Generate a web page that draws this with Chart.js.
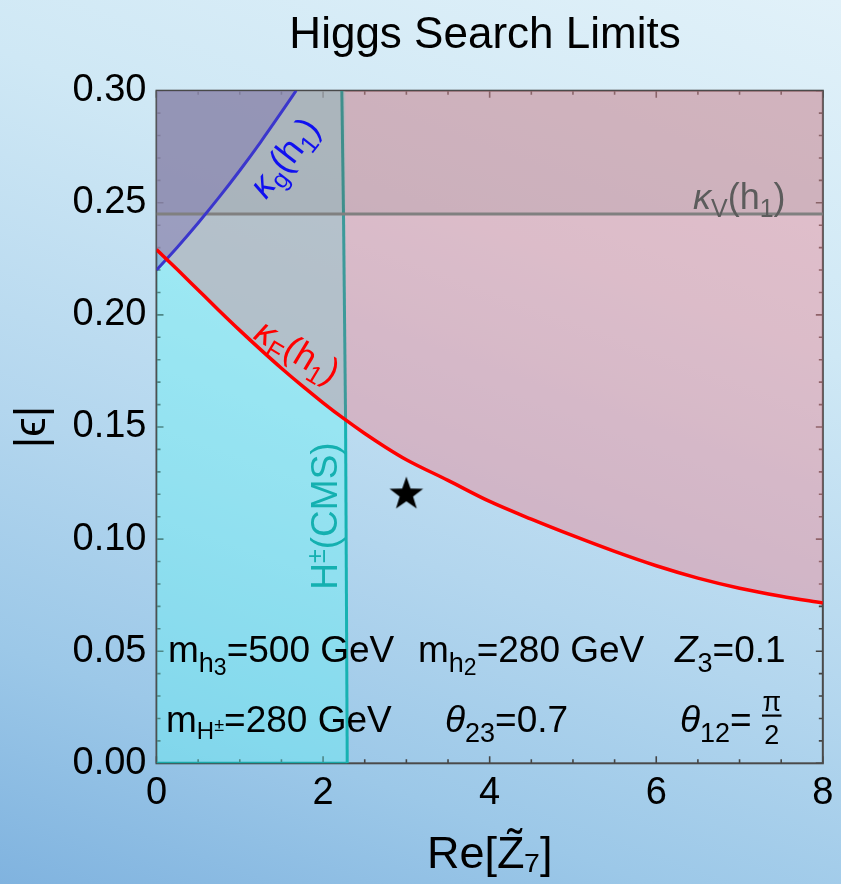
<!DOCTYPE html>
<html><head><meta charset="utf-8">
<script src="https://cdn.jsdelivr.net/npm/chart.js@4.4.1/dist/chart.umd.min.js"></script>
<style>
html,body{margin:0;padding:0;width:841px;height:884px;overflow:hidden;
background:linear-gradient(200deg,#e1f1f9 0%,#cfe8f5 30%,#b3d6ee 60%,#9cc8e8 80%,#80b3df 100%);}
canvas{display:block;}
</style></head><body>
<canvas id="c" width="841" height="884"></canvas>
<script>
// ---------- data ----------
const xTickValues = [0, 2, 4, 6, 8];
const yTickValues = [0, 0.05, 0.10, 0.15, 0.20, 0.25, 0.30];
const kappaF_x = [0, 0.25, 0.5, 0.75, 1, 1.25, 1.5, 1.75, 2, 2.25, 2.5, 2.75, 3, 3.5, 4, 4.5, 5, 5.5, 6, 6.5, 7, 7.5, 8];
const kappaF_y = [0.2292, 0.2202, 0.2111, 0.2020, 0.1931, 0.1845, 0.1762, 0.1683, 0.1608, 0.1537, 0.1471, 0.1410, 0.1354, 0.1262, 0.1168, 0.1089, 0.1015, 0.0945, 0.0881, 0.0826, 0.0781, 0.0745, 0.0715];
const kappaG_x = [0, 0.25, 0.5, 0.75, 1, 1.25, 1.5, 1.676];
const kappaG_y = [0.220, 0.2302, 0.2410, 0.2524, 0.2644, 0.2771, 0.2904, 0.300];
const kappaV_x = [0, 8];
const kappaV_y = [0.245, 0.245];
const cms_x = [2.225, 2.245, 2.27, 2.29];
const cms_y = [0.300, 0.245, 0.153, 0.000];
const benchmark_x = [3.0];
const benchmark_y = [0.12];

// ---------- helpers ----------
const FONT = '"Liberation Sans", Arial, sans-serif';
Chart.defaults.font.family = FONT;
const pts = (xs, ys) => xs.map((x, i) => ({x: x, y: ys[i]}));

const starImg = (() => {
  const c = document.createElement('canvas'); c.width = 38; c.height = 38;
  const g = c.getContext('2d'); g.fillStyle = '#000'; g.beginPath();
  const R = 17.7, r = R * 0.4, cx = 19, cy = 19;
  for (let k = 0; k < 10; k++) {
    const a = -Math.PI / 2 + k * Math.PI / 5, rad = k % 2 ? r : R;
    const px = cx + rad * Math.cos(a), py = cy + rad * Math.sin(a);
    k ? g.lineTo(px, py) : g.moveTo(px, py);
  }
  g.closePath(); g.fill(); return c;
})();

function setFont(ctx, size, italic) { ctx.font = (italic ? 'italic ' : '') + size + 'px ' + FONT; }
function richWidth(ctx, parts) { let w = 0; for (const p of parts) { setFont(ctx, p[1], p[3]); w += ctx.measureText(p[0]).width; } return w; }
function richDraw(ctx, x, y, parts) {
  for (const p of parts) { setFont(ctx, p[1], p[3]); ctx.fillText(p[0], x, y + (p[2] || 0)); x += ctx.measureText(p[0]).width; }
  return x;
}
function richRotated(ctx, cx, cy, angDeg, parts, color, base) {
  ctx.save(); ctx.translate(cx, cy); ctx.rotate(angDeg * Math.PI / 180);
  ctx.fillStyle = color; ctx.textAlign = 'left'; ctx.textBaseline = 'alphabetic';
  const w = richWidth(ctx, parts);
  richDraw(ctx, -w / 2, base, parts);
  ctx.restore();
}

const framePlugin = {
  id: 'frameTicks',
  beforeDatasetsDraw(chart) {
    const {ctx, chartArea: a} = chart; const xs = chart.scales.x, ys = chart.scales.y;
    ctx.save();
    ctx.strokeStyle = '#444'; ctx.lineWidth = 1.6;
    ctx.beginPath();
    for (let v = 0; v <= 8.0001; v += 0.5) {
      const px = xs.getPixelForValue(v);
      const L = Math.abs(v / 2 - Math.round(v / 2)) < 1e-6 ? 7 : 4;
      ctx.moveTo(px, a.bottom); ctx.lineTo(px, a.bottom - L);
      ctx.moveTo(px, a.top); ctx.lineTo(px, a.top + L);
    }
    for (let k = 0; k <= 30; k++) {
      const py = ys.getPixelForValue(k / 100);
      const L = k % 5 === 0 ? 7 : 4;
      ctx.moveTo(a.left, py); ctx.lineTo(a.left + L, py);
      ctx.moveTo(a.right, py); ctx.lineTo(a.right - L, py);
    }
    ctx.stroke();
    ctx.lineWidth = 2; ctx.strokeStyle = '#4a4a4a';
    ctx.strokeRect(a.left, a.top, a.right - a.left, a.bottom - a.top);
    ctx.restore();
  },
  afterDatasetsDraw(chart) {
    const {ctx} = chart;
    ctx.save();
    ctx.fillStyle = '#000'; ctx.textBaseline = 'alphabetic';
    // title
    setFont(ctx, 44); ctx.textAlign = 'center';
    ctx.fillText('Higgs Search Limits', 485, 47.7);
    ctx.textAlign = 'left';
    // parameter annotations
    richDraw(ctx, 168, 662, [['m', 37], ['h', 27, 10], ['3', 23, 13], ['=500 GeV', 37]]);
    richDraw(ctx, 418, 662, [['m', 37], ['h', 27, 10], ['2', 23, 13], ['=280 GeV', 37]]);
    richDraw(ctx, 675, 662, [['Z', 37, 0, true], ['3', 27, 10], ['=0.1', 37]]);
    richDraw(ctx, 166, 731.5, [['m', 37], ['H', 24, 7], ['±', 18, -1], ['=280 GeV', 37]]);
    richDraw(ctx, 445, 731.5, [['θ', 37, 0, true], ['23', 27, 10], ['=0.7', 37]]);
    richDraw(ctx, 680, 731.5, [['θ', 37, 0, true], ['12', 27, 10], ['=', 37]]);
    setFont(ctx, 27); ctx.textAlign = 'center';
    ctx.fillText('π', 771.7, 711);
    ctx.fillText('2', 771.7, 743.5);
    ctx.fillRect(762, 714.5, 19.5, 2.2);
    ctx.textAlign = 'left';
    // curve labels
    richRotated(ctx, 285, 158, -52, [['κ', 36, 0, true], ['g', 25, 7], ['(h', 36], ['1', 25, 8], [')', 36]], '#1010f0', 11);
    richRotated(ctx, 297, 352, 31, [['κ', 36, 0, true], ['F', 25, 8], ['(h', 36], ['1', 25, 8], [')', 36]], '#ff0000', 11);
    ctx.fillStyle = '#5c5c5c';
    richDraw(ctx, 693, 209, [['κ', 36, 0, true], ['V', 25, 8], ['(h', 36], ['1', 25, 8], [')', 36]]);
    richRotated(ctx, 337, 516, -90, [['H', 37], ['±', 25, -12], ['(CMS)', 37]], '#14b0b0', 0);
    ctx.restore();
  }
};

const tealFill = 'rgba(95,245,245,0.38)';
const pinkFill = 'rgba(235,135,148,0.45)';
const mixFill = 'rgba(150,200,205,0.30)';
const grayFill = 'rgba(110,110,110,0.15)';
const blueFill = 'rgba(95,75,165,0.30)';

const overlapPts = pts(kappaF_x, kappaF_y).filter(p => p.x < cms_x[2]).concat([{x: cms_x[2], y: cms_y[2]}]);

new Chart(document.getElementById('c'), {
  type: 'line',
  data: {
    datasets: [
      {label: 'benchmark', data: pts(benchmark_x, benchmark_y), showLine: false, pointStyle: starImg, pointRadius: 10, order: 0},
      {label: 'κF(h1)', data: pts(kappaF_x, kappaF_y), borderColor: '#ff0000', borderWidth: 3.5, cubicInterpolationMode: 'monotone', pointRadius: 0, fill: false, order: 1},
      {label: 'κg(h1)', data: pts(kappaG_x, kappaG_y), borderColor: '#3b36cc', borderWidth: 3, cubicInterpolationMode: 'monotone', pointRadius: 0, fill: false, order: 2},
      {label: 'κV(h1)', data: pts(kappaV_x, kappaV_y), borderColor: '#808080', borderWidth: 3.2, pointRadius: 0, fill: false, order: 3},
      {label: 'H±(CMS)', data: pts(cms_x, cms_y), borderWidth: 3, pointRadius: 0, fill: false, order: 4,
        segment: {borderColor: c => c.p0.parsed.y > 0.25 ? '#3f8f8c' : (c.p0.parsed.y > 0.16 ? '#3d9a9a' : '#17b2b2')}},
      {label: 'H± edge', data: [{x: 0, y: 0}, {x: cms_x[3], y: 0}], borderColor: '#1aa8a8', borderWidth: 3, pointRadius: 0, fill: false, order: 5},
      {label: 'κg excluded', data: pts(kappaG_x, kappaG_y), borderColor: 'transparent', borderWidth: 0, cubicInterpolationMode: 'monotone', pointRadius: 0, backgroundColor: blueFill, fill: 'end', order: 10},
      {label: 'κV excluded', data: pts(kappaV_x, kappaV_y), borderColor: 'transparent', borderWidth: 0, pointRadius: 0, backgroundColor: grayFill, fill: 'end', order: 11},
      {label: 'κF & H± excluded', data: overlapPts, borderColor: 'transparent', borderWidth: 0, cubicInterpolationMode: 'monotone', pointRadius: 0, backgroundColor: mixFill, fill: 'end', order: 12},
      {label: 'κF excluded', data: pts(kappaF_x, kappaF_y), borderColor: 'transparent', borderWidth: 0, cubicInterpolationMode: 'monotone', pointRadius: 0, backgroundColor: pinkFill, fill: 'end', order: 13},
      {label: 'H± excluded', data: [{x: 0, y: 0.30}].concat(pts(cms_x, cms_y)), borderColor: 'transparent', borderWidth: 0, pointRadius: 0, backgroundColor: tealFill, fill: 'start', order: 14}
    ]
  },
  options: {
    responsive: false, animation: false, events: [], devicePixelRatio: 1,
    layout: {padding: {top: 90.7, right: 15.3, left: 0, bottom: 0}},
    plugins: {legend: {display: false}, tooltip: {enabled: false}, title: {display: false}},
    scales: {
      x: {
        type: 'linear', min: 0, max: 8,
        afterBuildTicks: s => { s.ticks = xTickValues.map(v => ({value: v})); },
        afterFit: s => { s.height = 120.7; },
        grid: {display: false, drawTicks: false}, border: {display: false},
        ticks: {font: {size: 38}, color: '#000', padding: 7.6, maxRotation: 0, callback: v => String(v)},
        title: {display: true, text: 'Re[Z̃₇]', font: {size: 45}, color: '#000', padding: {top: 0, bottom: 1.5}}
      },
      y: {
        type: 'linear', min: 0, max: 0.30,
        afterBuildTicks: s => { s.ticks = yTickValues.map(v => ({value: v})); },
        afterFit: s => { s.width = 156.5; },
        grid: {display: false, drawTicks: false}, border: {display: false},
        ticks: {font: {size: 38}, color: '#000', padding: 10, callback: v => Number(v).toFixed(2)},
        title: {display: true, text: '|ϵ|', font: {size: 44}, color: '#000', padding: {top: 6.5, bottom: 0}}
      }
    }
  },
  plugins: [framePlugin]
});
</script>
</body></html>
